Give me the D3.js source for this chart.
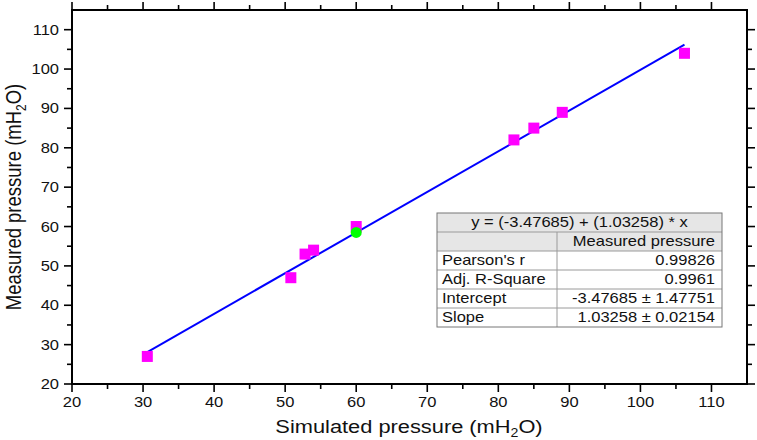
<!DOCTYPE html>
<html>
<head>
<meta charset="utf-8">
<script src="https://cdn.jsdelivr.net/npm/d3@7"></script>
<style>
body { margin: 0; background: #fff; }
svg { display: block; font-family: "Liberation Sans", Arial, sans-serif; }
</style>
</head>
<body>
<script>
// data
var simulated = [30.6, 50.8, 52.8, 54.0, 60.0, 82.2, 85.0, 89.0, 106.2];
var measured  = [27.0, 47.0, 53.0, 54.0, 60.0, 82.0, 85.0, 89.0, 104.0];
var highlight = [60.0, 58.5];   // green point
var intercept = -3.47685, slope = 1.03258;
var fitRange = [30.6, 106.2];
var xTicks = [20, 30, 40, 50, 60, 70, 80, 90, 100, 110];
var yTicks = [20, 30, 40, 50, 60, 70, 80, 90, 100, 110];
var tableTitle = "y = (-3.47685) + (1.03258) * x";
var tableHead = ["", "Measured pressure"];
var tableNames = ["Pearson's r", "Adj. R-Square", "Intercept", "Slope"];
var tableValues = ["0.99826", "0.9961", "-3.47685 \u00b1 1.47751", "1.03258 \u00b1 0.02154"];

var W = 757, H = 440;
var margin = {top: 10, right: 10, bottom: 56, left: 72};
var width = W - margin.left - margin.right,
    height = H - margin.top - margin.bottom;
var SX = 1.18; // the picture is a bit stretched sideways

var svg = d3.select("body").append("svg")
    .attr("width", W).attr("height", H);

var x = d3.scaleLinear().domain([20, 115]).range([margin.left, margin.left + width]);
var y = d3.scaleLinear().domain([20, 115]).range([margin.top + height, margin.top]);

var minorX = d3.range(25, 115, 10), minorY = d3.range(25, 115, 10);

function stext(g, tx, ty, str, size, anchor) {
    return g.append("text")
        .attr("transform", "translate(" + tx + "," + ty + ") scale(" + SX + ",1)")
        .attr("font-size", size)
        .attr("text-anchor", anchor || "start")
        .attr("fill", "#111")
        .text(str);
}

var axes = svg.append("g").attr("stroke", "#000");
// ticks on all four sides, pointing out
function tickset(vals, len, side) {
    vals.forEach(function(v) {
        if (side == "bottom") axes.append("line").attr("x1", x(v)).attr("x2", x(v)).attr("y1", y(20)).attr("y2", y(20) + len);
        if (side == "top") axes.append("line").attr("x1", x(v)).attr("x2", x(v)).attr("y1", y(115)).attr("y2", y(115) - len);
        if (side == "left") axes.append("line").attr("y1", y(v)).attr("y2", y(v)).attr("x1", x(20)).attr("x2", x(20) - len);
        if (side == "right") axes.append("line").attr("y1", y(v)).attr("y2", y(v)).attr("x1", x(115)).attr("x2", x(115) + len);
    });
}
axes.attr("stroke-width", 1.6);
tickset(xTicks, 8, "bottom"); tickset(minorX, 5, "bottom");
tickset(xTicks, 8, "top"); tickset(minorX, 5, "top");
tickset(yTicks, 8, "left"); tickset(minorY, 5, "left");
tickset(yTicks, 8, "right"); tickset(minorY, 5, "right");

axes.append("rect")
    .attr("x", x(20)).attr("y", y(115))
    .attr("width", x(115) - x(20)).attr("height", y(20) - y(115))
    .attr("fill", "none").attr("stroke-width", 2);

// tick labels
var lab = svg.append("g");
xTicks.forEach(function(v) { stext(lab, x(v), y(20) + 23, v, 14, "middle"); });
yTicks.forEach(function(v) { stext(lab, x(20) - 13, y(v) + 5, v, 14, "end"); });

// axis titles
var xt = stext(svg, 409, 433, "Simulated pressure (mH", 18.5, "middle");
xt.append("tspan").attr("font-size", 12).attr("dy", 4).text("2");
xt.append("tspan").attr("dy", -4).text("O)");

var yt = svg.append("text")
    .attr("transform", "translate(21," + 197 + ") rotate(-90) scale(1,1.18)")
    .attr("font-size", 18.5).attr("text-anchor", "middle").attr("fill", "#111")
    .text("Measured pressure (mH");
yt.append("tspan").attr("font-size", 12).attr("dy", 4).text("2");
yt.append("tspan").attr("dy", -4).text("O)");

// fit line
svg.append("line")
    .attr("x1", x(fitRange[0])).attr("y1", y(intercept + slope * fitRange[0]))
    .attr("x2", x(fitRange[1])).attr("y2", y(intercept + slope * fitRange[1]))
    .attr("stroke", "#0000ff").attr("stroke-width", 2);

// points
var pts = simulated.map(function(s, i) { return {x: s, y: measured[i]}; });
var sq = 11;
svg.selectAll(".pt").data(pts).enter().append("rect")
    .attr("class", "pt")
    .attr("x", function(d) { return x(d.x) - sq / 2; })
    .attr("y", function(d) { return y(d.y) - sq / 2; })
    .attr("width", sq).attr("height", sq)
    .attr("fill", "#ff00ff");
svg.append("circle")
    .attr("cx", x(highlight[0])).attr("cy", y(highlight[1])).attr("r", 5.5)
    .attr("fill", "#00ff00");

// fit table
var tx0 = 437, tx1 = 722, tcol = 557, ty0 = 213, rh = 19;
var tbl = svg.append("g");
tbl.append("rect").attr("x", tx0).attr("y", ty0).attr("width", tx1 - tx0).attr("height", rh * 2)
    .attr("fill", "#e6e6e6");
tbl.append("rect").attr("x", tx0).attr("y", ty0 + rh * 2).attr("width", tx1 - tx0).attr("height", rh * tableNames.length)
    .attr("fill", "#fff");
for (var r = 1; r <= tableNames.length + 1; r++) {
    tbl.append("line").attr("x1", tx0).attr("x2", tx1).attr("y1", ty0 + rh * r).attr("y2", ty0 + rh * r)
        .attr("stroke", "#9a9a9a");
}
tbl.append("line").attr("x1", tcol).attr("x2", tcol).attr("y1", ty0 + rh).attr("y2", ty0 + rh * (tableNames.length + 2))
    .attr("stroke", "#9a9a9a");
tbl.append("rect").attr("x", tx0).attr("y", ty0).attr("width", tx1 - tx0).attr("height", rh * (tableNames.length + 2))
    .attr("fill", "none").attr("stroke", "#777");

stext(tbl, (tx0 + tx1) / 2, ty0 + 14, tableTitle, 14, "middle");
stext(tbl, tx1 - 7, ty0 + rh + 14, tableHead[1], 14, "end");
tableNames.forEach(function(n, i) {
    stext(tbl, tx0 + 5, ty0 + rh * (i + 2) + 14, n, 14, "start");
    stext(tbl, tx1 - 7, ty0 + rh * (i + 2) + 14, tableValues[i], 14, "end");
});
</script>
</body>
</html>
